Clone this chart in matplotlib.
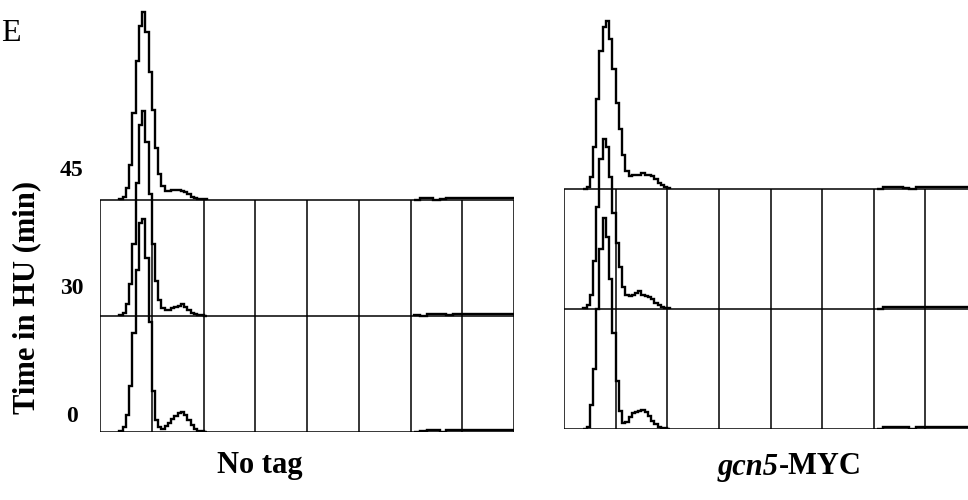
import numpy as np
import matplotlib.pyplot as plt

plt.rcParams['font.family'] = ['Liberation Serif', 'DejaVu Serif']

# DNA content histograms (counts per 2-channel bin, channels 12..66)
peak_edges = np.arange(12, 68, 2)

# No tag
notag_0 = [1, 4, 15, 40, 85, 140, 180, 184, 150, 95, 35, 10, 4, 3,
           5, 8, 11, 14, 16, 17, 15, 10, 6, 3, 1, 1, 0]
notag_30 = [1, 3, 10, 28, 62, 115, 165, 177, 150, 105, 62, 30, 14, 7,
            5, 5, 7, 8, 9, 10, 8, 5, 3, 2, 1, 1, 0]
notag_45 = [1, 3, 10, 30, 75, 120, 150, 162, 145, 110, 78, 45, 22, 12,
            8, 8, 9, 9, 9, 8, 7, 5, 3, 2, 1, 1, 1]

# gcn5-MYC
myc_0 = [0, 2, 20, 50, 100, 150, 176, 160, 125, 80, 40, 15, 5, 6,
         10, 13, 14, 15, 16, 14, 11, 7, 4, 2, 1, 1, 0]
myc_30 = [1, 3, 12, 40, 85, 125, 142, 135, 110, 80, 55, 35, 18, 12,
          11, 12, 13, 15, 12, 11, 10, 8, 5, 3, 2, 1, 1]
myc_45 = [0, 2, 10, 35, 75, 115, 135, 140, 125, 100, 72, 50, 28, 15,
          11, 12, 12, 12, 13, 12, 12, 11, 8, 5, 3, 2, 1]

# pile-up at the top channels (4-channel bins, channels 194..258)
tail_edges = np.arange(194, 259, 4)
notag_tail_0 = [0, 1, 2, 2, 0, 2, 2, 2, 2, 2, 2, 2, 2, 2, 2, 2]
notag_tail_30 = [1, 0, 2, 2, 2, 1, 2, 2, 2, 2, 2, 2, 2, 2, 2, 2]
notag_tail_45 = [0, 2, 2, 0, 1, 2, 2, 2, 2, 2, 2, 2, 2, 2, 2, 2]
myc_tail_0 = [0, 2, 2, 2, 2, 0, 2, 2, 2, 2, 2, 2, 2, 2, 2, 2]
myc_tail_30 = [0, 2, 2, 2, 2, 2, 2, 2, 2, 2, 2, 2, 2, 2, 2, 2]
myc_tail_45 = [0, 2, 2, 2, 1, 0, 2, 2, 2, 2, 2, 2, 2, 2, 2, 2]

times = ['0', '30', '45']
grid_cols = np.arange(0, 257, 32)

W, H = 968, 500
fig = plt.figure(figsize=(W / 100, H / 100), dpi=100)


def fpos(x, y):
    return x / W, 1 - y / H


def draw_panel(rect, ymax, hists, tails):
    ax = fig.add_axes(rect)
    ax.set_xlim(0, 256)
    ax.set_ylim(0, ymax)
    ax.axis('off')
    ax.vlines(grid_cols, 0, 200, color='black', lw=1.1)
    ax.hlines([0, 100, 200], 0, 256, color='black', lw=1.1)
    for i, (h, t) in enumerate(zip(hists, tails)):
        off = 100 * i
        ax.stairs(off + np.array(h), peak_edges, baseline=off,
                  color='black', lw=1.7)
        ax.stairs(off + np.array(t), tail_edges, baseline=off,
                  color='black', lw=1.7)
    return ax


# left panel: baseline at 432 px, 1.16 px per count
draw_panel([100 / W, (H - 432) / H, 414 / W, 432 / H], 432 / 1.16,
           [notag_0, notag_30, notag_45],
           [notag_tail_0, notag_tail_30, notag_tail_45])
# right panel: baseline at 429 px, 1.2 px per count (cut at the right edge)
draw_panel([564 / W, (H - 429) / H, 413 / W, 429 / H], 429 / 1.2,
           [myc_0, myc_30, myc_45],
           [myc_tail_0, myc_tail_30, myc_tail_45])

# time labels
for lab, y in zip(times, [416, 289, 170]):
    fig.text(*fpos(72, y), lab, ha='center', va='center',
             fontsize=17, fontweight='bold')

fig.text(*fpos(27, 297), 'Time in HU (min)', rotation=90, ha='center',
         va='center', fontsize=22, fontweight='bold')
fig.text(*fpos(1, 33), 'E', ha='left', va='center', fontsize=23)

fig.text(*fpos(260, 466), 'No tag', ha='center', va='center',
         fontsize=22, fontweight='bold')
fig.text(*fpos(779, 467), 'gcn5', ha='right', va='center',
         fontsize=22, fontweight='bold', fontstyle='italic')
fig.text(*fpos(779, 467), '-MYC', ha='left', va='center',
         fontsize=22, fontweight='bold')

fig.savefig('out.png', dpi=100)
